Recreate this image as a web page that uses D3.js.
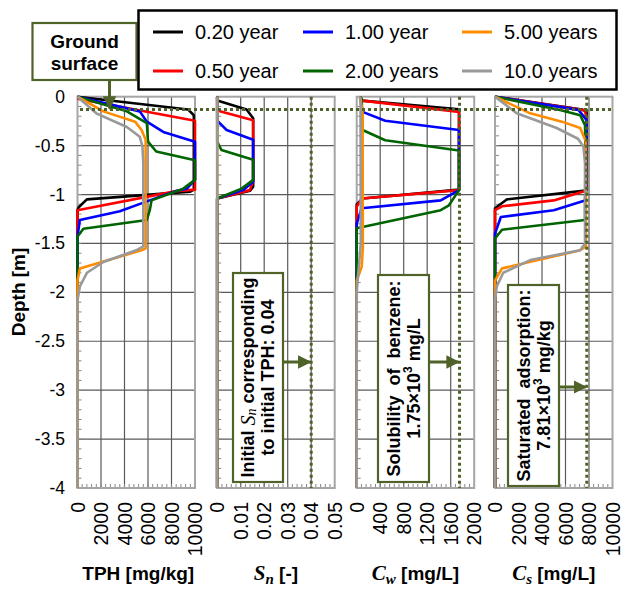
<!DOCTYPE html>
<html><head><meta charset="utf-8">
<script src="https://cdn.jsdelivr.net/npm/d3@7"></script>
<style>body{margin:0;background:#fff}svg{display:block}</style>
</head><body>
<svg id="chart" width="622" height="590"></svg>
<script>
// ---------- DATA ----------
const seriesNames = ["0.20 year","0.50 year","1.00 year","2.00 years","5.00 years","10.0 years"];
const seriesColors = ["#000000","#ff0000","#0000ff","#006400","#ff8c00","#999999"];
const depthTicks = [0,-0.5,-1,-1.5,-2,-2.5,-3,-3.5,-4];
const tphTicks = [0,2000,4000,6000,8000,10000];
const snTicks = [0,0.01,0.02,0.03,0.04,0.05];
const cwTicks = [0,400,800,1200,1600,2000];
const csTicks = [0,2000,4000,6000,8000,10000];
const groundDepth = -0.13;
const snInitial = 0.04, cwSolubility = 1750, csSaturated = 7810;
// each curve: [value, depth]
const tphCurves = [
 [[0,0],[9400,-0.13],[9900,-0.19],[9900,-0.95],[9600,-0.97],[800,-1.05],[100,-1.13],[0,-1.16],[0,-4]],
 [[0,-0.02],[10000,-0.245],[10000,-0.95],[8400,-0.965],[0,-1.16],[0,-4]],
 [[0,0],[5300,-0.15],[5900,-0.255],[7300,-0.36],[10000,-0.46],[10000,-0.85],[9300,-0.94],[8400,-0.965],[5900,-1.07],[3600,-1.17],[200,-1.26],[0,-1.43],[0,-4]],
 [[0,0],[4200,-0.15],[5900,-0.27],[6000,-0.46],[6700,-0.56],[10000,-0.65],[10000,-0.85],[9000,-0.94],[6300,-1.06],[6150,-1.16],[5900,-1.26],[500,-1.35],[0,-1.43],[0,-4]],
 [[0,0],[2200,-0.15],[4900,-0.255],[5450,-0.34],[5800,-0.44],[5800,-1.55],[5450,-1.57],[200,-1.755],[0,-1.88],[0,-4]],
 [[0,0],[1600,-0.17],[4200,-0.31],[5300,-0.41],[5530,-0.51],[5600,-0.68],[5600,-1.53],[5000,-1.57],[2200,-1.69],[800,-1.8],[200,-1.94],[0,-2.08],[0,-4]]
];
const snCurves = [
 [[0,0],[0,-0.04],[0.0125,-0.13],[0.0153,-0.22],[0.0153,-0.92],[0.014,-0.96],[0,-1.04],[0,-4]],
 [[0,0],[0,-0.14],[0.0153,-0.24],[0.0153,-0.86],[0.0139,-0.955],[0,-1.04],[0,-4]],
 [[0,0],[0,-0.245],[0.004,-0.34],[0.0153,-0.44],[0.0153,-0.87],[0.011,-0.955],[0,-1.04],[0,-4]],
 [[0,0],[0,-0.46],[0.0018,-0.545],[0.0153,-0.645],[0.0153,-0.85],[0.0104,-0.94],[0,-1.04],[0,-4]],
 [[0,0],[0,-4]],
 [[0,0],[0,-4]]
];
const cwCurves = [
 [[60,0],[90,-0.04],[1742,-0.13],[1742,-0.95],[100,-1.04],[0,-1.1],[0,-4]],
 [[60,0],[90,-0.04],[1742,-0.155],[1742,-0.955],[90,-1.04],[0,-1.125],[0,-4]],
 [[60,0],[100,-0.155],[485,-0.245],[1742,-0.34],[1742,-0.955],[1430,-1.06],[85,-1.14],[0,-1.3],[0,-4]],
 [[60,0],[85,-0.02],[100,-0.34],[485,-0.445],[1742,-0.55],[1742,-0.955],[1570,-1.11],[1430,-1.16],[0,-1.345],[0,-4]],
 [[60,0],[100,-0.17],[105,-1.54],[85,-1.74],[0,-1.88],[0,-4]],
 [[55,0],[65,-0.07],[70,-1.5],[55,-1.6],[0,-2.0],[0,-4]]
];
const csCurves = [
 [[0,0],[7400,-0.13],[7800,-0.155],[7800,-0.95],[7660,-0.96],[1000,-1.05],[0,-1.14],[0,-4]],
 [[0,0],[7660,-0.14],[7800,-0.24],[7800,-0.95],[7660,-0.965],[5000,-1.06],[600,-1.12],[0,-1.16],[0,-4]],
 [[0,0],[7100,-0.135],[7800,-0.24],[7800,-0.93],[7660,-1.06],[5000,-1.16],[500,-1.23],[0,-1.4],[0,-4]],
 [[0,0],[5530,-0.135],[7250,-0.19],[7660,-0.29],[7700,-0.5],[7660,-1.26],[600,-1.36],[0,-1.45],[0,-4]],
 [[0,0],[3000,-0.17],[5700,-0.255],[7250,-0.32],[7740,-0.46],[7740,-1.53],[7250,-1.57],[600,-1.755],[0,-1.88],[0,-4]],
 [[0,0],[1850,-0.17],[5250,-0.32],[7060,-0.43],[7530,-0.51],[7660,-0.68],[7660,-1.5],[7250,-1.57],[3000,-1.67],[700,-1.8],[150,-1.94],[0,-2.08],[0,-4]]
];

// ---------- LAYOUT ----------
const svg = d3.select("#chart");
const plotTop = 96.7, plotBottom = 488, pw = 117.5;
const lefts = [77.5, 217.2, 356.7, 495];
const olive = "#4f6228";
const y = d3.scaleLinear().domain([0,-4]).range([plotTop,plotBottom]);

const panels = [
 {curves: tphCurves, ticks: tphTicks, max: 10000},
 {curves: snCurves, ticks: snTicks, max: 0.05, vline: snInitial},
 {curves: cwCurves, ticks: cwTicks, max: 2000, vline: cwSolubility},
 {curves: csCurves, ticks: csTicks, max: 10000, vline: csSaturated}
];

const defs = svg.append("defs");
defs.append("marker").attr("id","arr").attr("viewBox","0 0 10 10").attr("refX",9).attr("refY",5)
 .attr("markerWidth",4.5).attr("markerHeight",4.5).attr("orient","auto-start-reverse")
 .append("path").attr("d","M0,0L10,5L0,10z").attr("fill",olive);

panels.forEach((p,i)=>{
  const x = d3.scaleLinear().domain([0,p.max]).range([lefts[i], lefts[i]+pw]);
  p.x = x;
  const g = svg.append("g");
  defs.append("clipPath").attr("id","clip"+i).append("rect")
    .attr("x",lefts[i]-2).attr("y",plotTop-2).attr("width",pw+4).attr("height",plotBottom-plotTop+4);
  g.selectAll(".vg").data(p.ticks.slice(1,-1)).join("line")
    .attr("x1",d=>x(d)).attr("x2",d=>x(d)).attr("y1",plotTop).attr("y2",plotBottom)
    .attr("stroke","#5a5a5a").attr("stroke-width",1.2);
  g.selectAll(".hg").data(depthTicks.slice(1,-1)).join("line")
    .attr("x1",lefts[i]).attr("x2",lefts[i]+pw).attr("y1",d=>y(d)).attr("y2",d=>y(d))
    .attr("stroke","#5a5a5a").attr("stroke-width",1.2);
  const yMinor = d3.range(0,41).map(k=>-k/10);
  g.selectAll(".ym").data(yMinor).join("line")
    .attr("x1",lefts[i]).attr("x2",lefts[i]+4).attr("y1",d=>y(d)).attr("y2",d=>y(d))
    .attr("stroke","#888").attr("stroke-width",1);
  const xMinor = d3.range(0,26).map(k=>k*p.max/25);
  g.selectAll(".xm").data(xMinor).join("line")
    .attr("x1",d=>x(d)).attr("x2",d=>x(d)).attr("y1",plotBottom).attr("y2",plotBottom-4)
    .attr("stroke","#888").attr("stroke-width",1);
  g.append("rect").attr("x",lefts[i]).attr("y",plotTop).attr("width",pw).attr("height",plotBottom-plotTop)
    .attr("fill","none").attr("stroke","#a6a6a6").attr("stroke-width",2);
  const fmt = i===1 ? (d=>d===0?"0":d3.format(".2f")(d)) : (d=>String(d));
  g.selectAll(".xt").data(p.ticks).join("text")
    .attr("transform",d=>`translate(${x(d)},${plotBottom+14}) rotate(-90)`)
    .attr("text-anchor","end").attr("dominant-baseline","central")
    .attr("font-family","Liberation Sans, Arial, sans-serif").attr("font-size",19.5)
    .attr("fill","#000").text(fmt);
  const line = d3.line().x(d=>x(d[0])).y(d=>y(d[1]));
  g.append("g").attr("clip-path",`url(#clip${i})`).selectAll("path").data(p.curves).join("path")
    .attr("d",line).attr("fill","none").attr("stroke",(d,k)=>seriesColors[k])
    .attr("stroke-width",2.6).attr("stroke-linejoin","round");
  if (p.vline !== undefined) {
    g.append("line").attr("x1",x(p.vline)).attr("x2",x(p.vline)).attr("y1",plotTop).attr("y2",plotBottom)
      .attr("stroke",olive).attr("stroke-width",3).attr("stroke-dasharray","3,3");
  }
});

svg.selectAll(".yt").data(depthTicks).join("text")
  .attr("x",65).attr("y",d=>y(d)).attr("text-anchor","end").attr("dominant-baseline","central")
  .attr("font-family","Liberation Sans, Arial, sans-serif").attr("font-size",17.5).text(d=>String(d));
svg.append("text").attr("transform","translate(18,292) rotate(-90)")
  .attr("text-anchor","middle").attr("dominant-baseline","central")
  .attr("font-family","Liberation Sans, Arial, sans-serif").attr("font-size",19).attr("font-weight","bold")
  .text("Depth [m]");

svg.append("line").attr("x1",80).attr("x2",613).attr("y1",y(groundDepth)).attr("y2",y(groundDepth))
  .attr("stroke",olive).attr("stroke-width",3).attr("stroke-dasharray","3,3");

const titleY = 580;
const sans = "Liberation Sans, Arial, sans-serif", serif = "Liberation Serif, DejaVu Serif, serif";
function title(cx, sym, sub, unit) {
  const t = svg.append("text").attr("x",cx).attr("y",titleY).attr("text-anchor","middle")
    .attr("font-size",19).attr("font-weight","bold").attr("font-family",sans);
  if (sym) {
    t.append("tspan").attr("font-family",serif).attr("font-style","italic").attr("font-size",21).text(sym);
    t.append("tspan").attr("font-family",serif).attr("font-style","italic").attr("font-size",15).attr("dy",4).text(sub);
    t.append("tspan").attr("dy",-4).text(" " + unit);
  } else t.text(unit);
}
title(lefts[0]+pw/2+2, null, null, "TPH [mg/kg]");
title(lefts[1]+pw/2, "S", "n", "[-]");
title(lefts[2]+pw/2, "C", "w", "[mg/L]");
title(lefts[3]+pw/2, "C", "s", "[mg/L]");

function box(x0,y0,w,h,lines,arrowY,arrowX2){
  svg.append("rect").attr("x",x0).attr("y",y0).attr("width",w).attr("height",h)
    .attr("fill","#fff").attr("stroke",olive).attr("stroke-width",2.2);
  const cx = x0+w/2, cy = y0+h/2;
  lines.forEach((ln,k)=>{
    const t = svg.append("text").attr("transform",`translate(${cx + (k===0?-10:10)},${cy}) rotate(-90)`)
      .attr("text-anchor","middle").attr("dominant-baseline","central")
      .style("white-space","pre")
      .attr("font-family",sans).attr("font-weight","bold").attr("font-size",18);
    ln.forEach(seg=>{
      const s = t.append("tspan").text(seg.t);
      if (seg.it) s.attr("font-family",serif).attr("font-style","italic").attr("font-weight","normal").attr("font-size",20);
      if (seg.sub) s.attr("font-family",serif).attr("font-style","italic").attr("font-weight","normal").attr("font-size",14).attr("dy",3);
      if (seg.sup) s.attr("font-size",12).attr("dy",-6);
      if (seg.back) s.attr("dy",-3);
      if (seg.down) s.attr("dy",6);
    });
  });
  svg.append("line").attr("x1",x0+w).attr("x2",arrowX2).attr("y1",arrowY).attr("y2",arrowY)
    .attr("stroke",olive).attr("stroke-width",3).attr("marker-end","url(#arr)");
}
box(233,273,50,209,[[{t:"Initial "},{t:"S",it:1},{t:"n",sub:1},{t:" corresponding",back:1}],[{t:"to initial TPH: 0.04"}]],362,panels[1].x(snInitial)-1);
box(378,275,51,207,[[{t:"Solubility  of  benzene:"}],[{t:"1.75×10"},{t:"3",sup:1},{t:" mg/L",down:1}]],362,panels[2].x(cwSolubility)-1);
box(508,285,51,201,[[{t:"Saturated  adsorption:"}],[{t:"7.81×10"},{t:"3",sup:1},{t:" mg/kg",down:1}]],387,panels[3].x(csSaturated)-1);

svg.append("rect").attr("x",32.5).attr("y",23).attr("width",104).attr("height",57)
  .attr("fill","#fff").attr("stroke",olive).attr("stroke-width",2.2);
svg.append("text").attr("x",84.5).attr("y",48).attr("text-anchor","middle")
  .attr("font-family",sans).attr("font-weight","bold").attr("font-size",19).text("Ground");
svg.append("text").attr("x",84.5).attr("y",70).attr("text-anchor","middle")
  .attr("font-family",sans).attr("font-weight","bold").attr("font-size",19).text("surface");
svg.append("line").attr("x1",109.5).attr("x2",109.5).attr("y1",80).attr("y2",y(groundDepth)-1)
  .attr("stroke",olive).attr("stroke-width",3).attr("marker-end","url(#arr)");

const lg = svg.append("g");
lg.append("rect").attr("x",138.5).attr("y",10.5).attr("width",478).attr("height",79)
  .attr("fill","#fff").attr("stroke","#000").attr("stroke-width",2.5);
const colX = [153, 303, 462], rowY = [32, 71];
seriesNames.forEach((n,k)=>{
  const cx = colX[Math.floor(k/2)], cy = rowY[k%2];
  lg.append("line").attr("x1",cx).attr("x2",cx+30).attr("y1",cy).attr("y2",cy)
    .attr("stroke",seriesColors[k]).attr("stroke-width",3);
  lg.append("text").attr("x",cx+42).attr("y",cy).attr("dominant-baseline","central")
    .attr("font-family",sans).attr("font-size",20).text(n);
});
</script>
</body></html>
